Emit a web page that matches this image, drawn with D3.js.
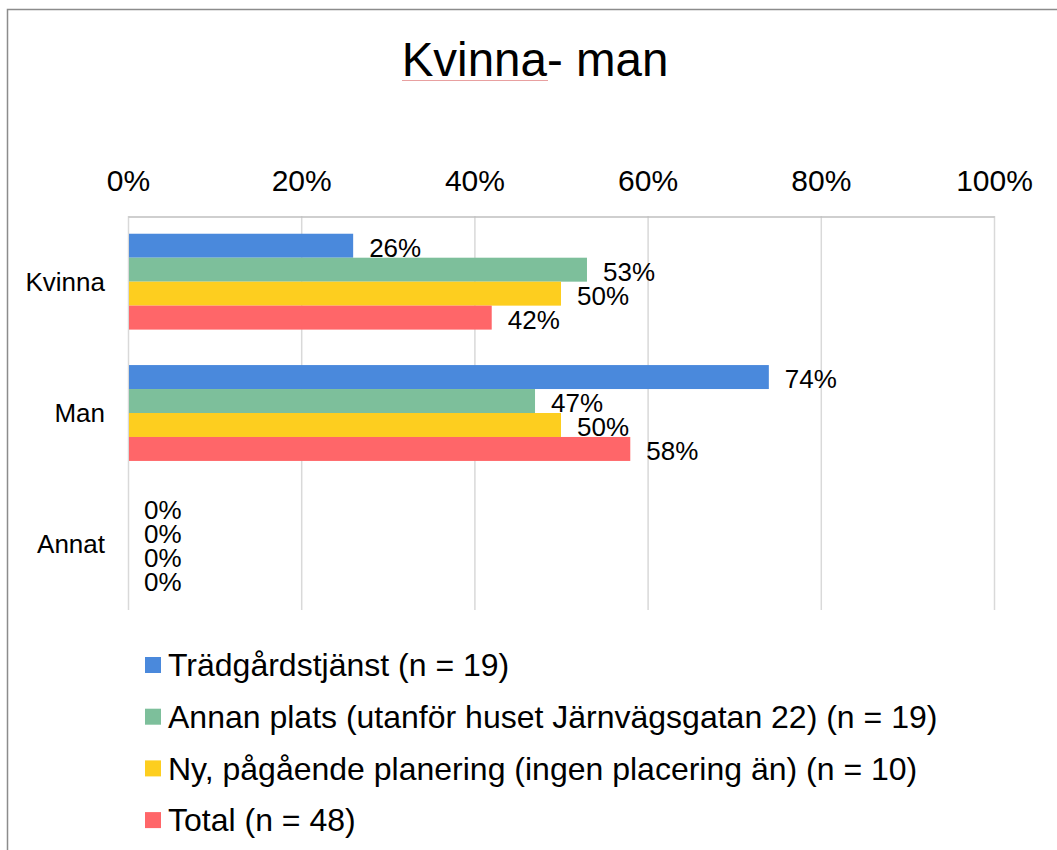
<!DOCTYPE html>
<html>
<head>
<meta charset="utf-8">
<script src="https://cdn.jsdelivr.net/npm/d3@7"></script>
<style>
  body { margin: 0; background: #fff; }
  svg { font-family: "Liberation Sans", Arial, sans-serif; }
</style>
</head>
<body>
<script>
var categories = ['Kvinna', 'Man', 'Annat'];
var seriesNames = [
  'Trädgårdstjänst (n = 19)',
  'Annan plats (utanför huset Järnvägsgatan 22) (n = 19)',
  'Ny, pågående planering (ingen placering än) (n = 10)',
  'Total (n = 48)'
];
var seriesColors = ['#4a89dc', '#7dbf9b', '#fdce1f', '#ff6669'];
var tradgard = [26, 74, 0];
var annanPlats = [53, 47, 0];
var nyPlanering = [50, 50, 0];
var total = [42, 58, 0];
var xTicks = [0, 20, 40, 60, 80, 100];

var seriesValues = [tradgard, annanPlats, nyPlanering, total];

var w = 1057;
var h = 850;
var svg = d3.select('body').append('svg')
            .attr('width', w)
            .attr('height', h);

// outer chart border (only top and left visible in frame)
svg.append('path')
   .attr('d', 'M7.5,' + h + ' L7.5,9.5 L' + w + ',9.5')
   .attr('fill', 'none')
   .attr('stroke', '#8c8c8c')
   .attr('stroke-width', 1.5);

var plotLeft = 128, plotRight = 994, plotTop = 216, plotBottom = 610;

var x = d3.scaleLinear().domain([0, 100]).range([plotLeft, plotRight]);
var y = d3.scaleBand().domain(categories).range([plotTop, plotBottom]).paddingInner(0.27).paddingOuter(0.135);
var ySub = d3.scaleBand().domain(d3.range(seriesNames.length)).range([0, y.bandwidth()]);

// title
svg.append('text')
   .attr('x', 535)
   .attr('y', 76)
   .attr('text-anchor', 'middle')
   .style('font-size', '47.5px')
   .attr('fill', '#000')
   .text('Kvinna- man');
svg.append('line')
   .attr('x1', 402).attr('x2', 548)
   .attr('y1', 80.5).attr('y2', 80.5)
   .attr('stroke', '#e8a0a0')
   .attr('stroke-width', 1);

// gridlines
svg.append('g')
   .selectAll('line')
   .data(xTicks)
   .enter()
   .append('line')
   .attr('x1', function(d){ return x(d) + 0.5; })
   .attr('x2', function(d){ return x(d) + 0.5; })
   .attr('y1', plotTop)
   .attr('y2', plotBottom)
   .attr('stroke', '#d9d9d9')
   .attr('stroke-width', 1.5);

// top axis
var xAxis = d3.axisTop(x)
              .tickValues(xTicks)
              .tickSize(0)
              .tickPadding(26)
              .tickFormat(function(d){ return d + '%'; });
var gx = svg.append('g')
   .attr('transform', 'translate(0,' + (plotTop + 0.5) + ')')
   .call(xAxis);
gx.select('.domain').attr('stroke', '#bfbfbf').attr('stroke-width', 1.5);
gx.selectAll('text').style('font-size', '30px').attr('fill', '#000').attr('font-family', null);

// category labels
svg.append('g')
   .selectAll('text')
   .data(categories)
   .enter()
   .append('text')
   .attr('x', plotLeft - 23)
   .attr('y', function(d){ return y(d) + y.bandwidth() / 2; })
   .attr('dy', '0.35em')
   .attr('text-anchor', 'end')
   .style('font-size', '26px')
   .text(function(d){ return d; });

// bars
seriesValues.forEach(function(vals, si){
  var g = svg.append('g');
  g.selectAll('rect')
   .data(vals)
   .enter()
   .append('rect')
   .attr('x', x(0) + 1)
   .attr('y', function(d, i){ return y(categories[i]) + ySub(si); })
   .attr('width', function(d){ return Math.max(0, x(d) - x(0) - 1); })
   .attr('height', ySub.bandwidth())
   .attr('fill', seriesColors[si]);
  g.selectAll('text')
   .data(vals)
   .enter()
   .append('text')
   .attr('x', function(d){ return x(d) + 16; })
   .attr('y', function(d, i){ return y(categories[i]) + ySub(si) + ySub.bandwidth() / 2 + 2; })
   .attr('dy', '0.35em')
   .style('font-size', '26px')
   .text(function(d){ return d + '%'; });
});

// legend
var legend = svg.append('g')
   .selectAll('g')
   .data(seriesNames)
   .enter()
   .append('g')
   .attr('transform', function(d, i){ return 'translate(145,' + (665 + i * 51.7) + ')'; });
legend.append('rect')
   .attr('x', 0).attr('y', -8)
   .attr('width', 16).attr('height', 16)
   .attr('fill', function(d, i){ return seriesColors[i]; });
legend.append('text')
   .attr('x', 23)
   .attr('dy', '0.35em')
   .style('font-size', '32px')
   .text(function(d){ return d; });
</script>
</body>
</html>
